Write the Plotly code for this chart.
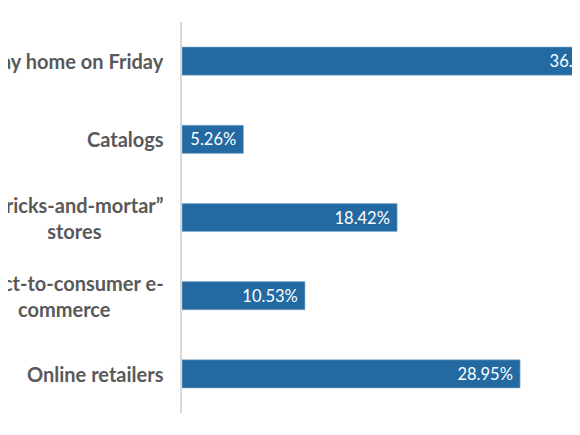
import plotly.graph_objects as go

categories = ["Stay home on Friday", "Catalogs", "“Bricks-and-mortar”<br>stores",
              "Direct-to-consumer e-<br>commerce", "Online retailers"]
values = [36.84, 5.26, 18.42, 10.53, 28.95]
value_labels = ["36.84%", "5.26%", "18.42%", "10.53%", "28.95%"]

BAR = "#236AA2"
LABEL = "#595959"

fig = go.Figure()
fig.add_trace(go.Bar(
    x=values, y=categories, orientation="h",
    marker=dict(color=BAR, line=dict(color="#8DB0CF", width=0.6)),
    text=value_labels, texttemplate="%{text}\u00a0",
    textposition="inside", insidetextanchor="end",
    textfont=dict(family="Lato", size=16.5, color="white"),
    cliponaxis=True, hoverinfo="skip",
))

for c in categories:
    fig.add_annotation(
        x=0, xref="paper", xshift=-16, y=c, yref="y", text=c, showarrow=False,
        xanchor="right", yanchor="middle", align="center",
        font=dict(family="Lato", size=20, color=LABEL, weight="bold"),
    )

fig.update_layout(
    width=572, height=419,
    margin=dict(l=174, r=0, t=14, b=14),
    paper_bgcolor="white", plot_bgcolor="white",
    bargap=0.64, showlegend=False,
    font=dict(family="Lato"),
)
fig.update_xaxes(range=[0, 34.08], visible=False, fixedrange=True)
fig.update_yaxes(autorange="reversed", showticklabels=False, showgrid=False,
                 showline=True, linecolor="#D9D9D9", linewidth=1.5, ticks="",
                 zeroline=False, fixedrange=True)

fig.write_html("out.html", config={"displayModeBar": False})
